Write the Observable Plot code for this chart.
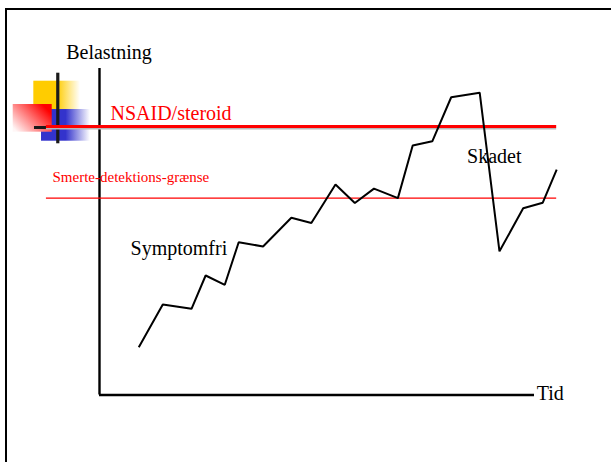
<!DOCTYPE html>
<html>
<head>
<meta charset="utf-8">
<script src="https://cdn.jsdelivr.net/npm/d3@7"></script>
<script src="https://cdn.jsdelivr.net/npm/@observablehq/plot@0.6"></script>
<style>
  html, body { margin: 0; padding: 0; background: #fff; overflow: hidden; }
  #wrap { position: relative; width: 611px; height: 462px; overflow: hidden; }
  #frame { position: absolute; left: 5px; top: 7.6px; width: 800px; height: 800px;
           border-left: 2.4px solid #000; border-top: 2.4px solid #000; box-sizing: border-box; }
  #chart { position: absolute; left: 0; top: 0; }
  #chart svg, #chart svg text { font-family: "Liberation Serif", "DejaVu Serif", serif !important; }
</style>
</head>
<body>
<div id="wrap"><div id="frame"></div><div id="chart"></div></div>
<script>
// Load curve (Belastning) over time (Tid), both in 0-100 axis units
const tid = [9.03, 14.55, 21.15, 24.4, 28.8, 32.0, 37.6, 44.1, 48.7, 54.25, 58.7, 63.1, 68.6, 72.0, 76.5, 80.85, 87.4, 91.95, 97.4, 101.9, 105.1];
const belastning = [14.6, 27.7, 26.4, 36.6, 33.75, 46.8, 45.5, 54.3, 52.7, 64.5, 58.8, 63.2, 60.3, 76.4, 77.7, 91.2, 92.6, 44.0, 57.2, 58.9, 69.0];

// Threshold levels
const thresholdNames = ["NSAID/steroid", "Smerte-detektions-grænse"];
const thresholdLevels = [82.2, 60.3];
const thresholdSpan = [-12.2, 105.1];

// Axis / annotation labels
const axisLabels = ["Belastning", "Tid"];
const phaseLabels = ["Symptomfri", "Skadet"];

const points = tid.map((t, i) => ({t, b: belastning[i]}));

const defs = () => {
  const g = document.createElementNS("http://www.w3.org/2000/svg", "g");
  g.innerHTML = `<defs>
    <linearGradient id="gy" x1="0" y1="0" x2="1" y2="0">
      <stop offset="0" stop-color="#ffcc00"/><stop offset="0.5" stop-color="#ffcc00"/>
      <stop offset="1" stop-color="#ffffff"/></linearGradient>
    <linearGradient id="gb" x1="0" y1="0" x2="1" y2="0">
      <stop offset="0" stop-color="#3333cc"/><stop offset="0.5" stop-color="#3333cc"/>
      <stop offset="1" stop-color="#ffffff"/></linearGradient>
    <linearGradient id="gr" x1="0" y1="0.85" x2="1" y2="0.15">
      <stop offset="0" stop-color="#fff6f6"/><stop offset="0.55" stop-color="#ff6262"/>
      <stop offset="0.9" stop-color="#ff0000"/><stop offset="1" stop-color="#ff0000"/></linearGradient>
  </defs>`;
  return g;
};

const font = "Liberation Serif";

const plot = Plot.plot({
  width: 611,
  height: 462,
  marginLeft: 99,
  marginRight: 77,
  marginTop: 68,
  marginBottom: 67.5,
  x: {domain: [0, 100], axis: null},
  y: {domain: [0, 100], axis: null},
  style: {background: "transparent", fontFamily: font, overflow: "visible"},
  marks: [
    defs,
    // decorative logo
    Plot.rect([0], {x1: -15.1, x2: -4.37, y1: 87.44, y2: 96.11, fill: "url(#gy)"}),
    Plot.rect([0], {x1: -13.33, x2: -2.07, y1: 77.73, y2: 87.44, fill: "url(#gb)"}),
    Plot.rect([0], {x1: -19.84, x2: -10.87, y1: 80.49, y2: 88.97, fill: "url(#gr)"}),
    Plot.ruleX([-9.59], {y1: 76.94, y2: 98.56, stroke: "#1a1a1a", strokeWidth: 3.2}),
    Plot.ruleY([81.93], {x1: -14.94, x2: -8.97, stroke: "#1a1a1a", strokeWidth: 3}),
    // axes
    Plot.ruleX([0], {y1: 0, y2: 100, stroke: "#000", strokeWidth: 2.4}),
    Plot.ruleY([0], {x1: 0, x2: 100, stroke: "#000", strokeWidth: 2.6}),
    // thresholds
    Plot.ruleY([thresholdLevels[0]], {x1: thresholdSpan[0], x2: thresholdSpan[1], stroke: "#b8b8b8", strokeWidth: 1.5, dy: 2.2}),
    Plot.ruleY([thresholdLevels[0]], {x1: thresholdSpan[0], x2: thresholdSpan[1], stroke: "#ff0000", strokeWidth: 3}),
    Plot.ruleY([thresholdLevels[1]], {x1: thresholdSpan[0], x2: thresholdSpan[1], stroke: "#ff0000", strokeWidth: 1.2}),
    // load curve
    Plot.line(points, {x: "t", y: "b", stroke: "#000", strokeWidth: 2, strokeLinejoin: "miter", strokeLinecap: "butt"}),
    // labels
    Plot.text([axisLabels[0]], {x: -7.66, y: 102.8, text: d => d, textAnchor: "start", lineAnchor: "bottom", fontSize: 20, fontFamily: font, fill: "#000"}),
    Plot.text([axisLabels[1]], {x: 100.5, y: -1.4, text: d => d, textAnchor: "start", lineAnchor: "bottom", fontSize: 20, fontFamily: font, fill: "#000"}),
    Plot.text([thresholdNames[0]], {x: 2.53, y: 84.1, text: d => d, textAnchor: "start", lineAnchor: "bottom", fontSize: 20, fontFamily: font, fill: "#ff0000"}),
    Plot.text([thresholdNames[1]], {x: -10.8, y: 65.2, text: d => d, textAnchor: "start", lineAnchor: "bottom", fontSize: 15, fontFamily: font, fill: "#ff0000"}),
    Plot.text([phaseLabels[0]], {x: 7.13, y: 43.0, text: d => d, textAnchor: "start", lineAnchor: "bottom", fontSize: 20, fontFamily: font, fill: "#000"}),
    Plot.text([phaseLabels[1]], {x: 84.5, y: 71.0, text: d => d, textAnchor: "start", lineAnchor: "bottom", fontSize: 20, fontFamily: font, fill: "#000"})
  ]
});
document.getElementById("chart").appendChild(plot);
</script>
</body>
</html>
